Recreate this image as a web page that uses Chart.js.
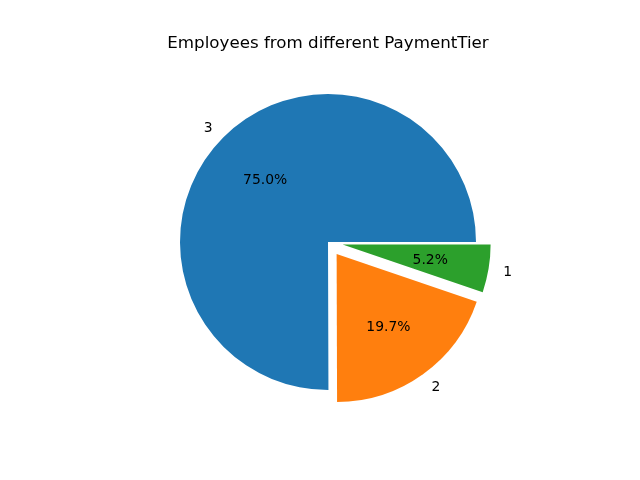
<!DOCTYPE html>
<html>
<head>
<meta charset="utf-8">
<script src="https://cdn.jsdelivr.net/npm/chart.js@4"></script>
<style>
  html, body { margin: 0; padding: 0; background: #fff; }
  #wrap { width: 640px; height: 480px; }
</style>
</head>
<body>
<div id="wrap"><canvas id="myChart" width="640" height="480"></canvas></div>
<script>
// drawing order (clockwise from east, like matplotlib's counter-clockwise from east)
const tiers = ['1', '2', '3'];
const counts = [243, 918, 3492];
const explode = [0.1, 0.1, 0];
const colors = ['#2ca02c', '#ff7f0e', '#1f77b4'];
const total = counts.reduce((a, b) => a + b, 0);

const FONT = 'DejaVu Sans';

// shift exploded wedges and draw labels the way matplotlib does
const pieLabels = {
    id: 'pieLabels',
    beforeDatasetDraw(chart, args) {
        const ctx = chart.ctx;
        const meta = chart.getDatasetMeta(args.index);
        meta.data.forEach(function(arc, i) {
            const p = arc.getProps(['startAngle', 'endAngle', 'outerRadius']);
            const mid = (p.startAngle + p.endAngle) / 2;
            const off = explode[i] * p.outerRadius;
            ctx.save();
            ctx.translate(Math.cos(mid) * off, Math.sin(mid) * off);
            arc.draw(ctx);
            ctx.restore();
        });
        return false;
    },
    afterDatasetsDraw(chart) {
        const ctx = chart.ctx;
        const meta = chart.getDatasetMeta(0);
        ctx.save();
        ctx.fillStyle = '#000';
        ctx.font = '13.9px "' + FONT + '"';
        ctx.textBaseline = 'middle';
        meta.data.forEach(function(arc, i) {
            const p = arc.getProps(['x', 'y', 'startAngle', 'endAngle', 'outerRadius']);
            const mid = (p.startAngle + p.endAngle) / 2;
            const r = p.outerRadius;
            const cx = p.x + Math.cos(mid) * explode[i] * r;
            const cy = p.y + Math.sin(mid) * explode[i] * r + 1;
            // category label at 1.1 r
            const lx = cx + Math.cos(mid) * 1.1 * r;
            const ly = cy + Math.sin(mid) * 1.1 * r;
            ctx.textAlign = Math.cos(mid) < 0 ? 'right' : 'left';
            ctx.fillText(tiers[i], lx, ly);
            // percentage at 0.6 r
            const px = cx + Math.cos(mid) * 0.6 * r;
            const py = cy + Math.sin(mid) * 0.6 * r;
            ctx.textAlign = 'center';
            ctx.fillText((counts[i] / total * 100).toFixed(1) + '%', px, py);
        });
        ctx.restore();
    }
};

const ctx = document.getElementById('myChart').getContext('2d');
window.myChart = new Chart(ctx, {
    type: 'pie',
    data: {
        labels: tiers,
        datasets: [{
            data: counts,
            backgroundColor: colors,
            borderWidth: 0
        }]
    },
    options: {
        responsive: false,
        animation: false,
        rotation: 90,
        radius: 148,
        layout: {
            padding: { left: 16, right: 0, top: 24, bottom: 60 }
        },
        plugins: {
            legend: { display: false },
            tooltip: { enabled: false },
            title: {
                display: true,
                text: 'Employees from different PaymentTier',
                color: '#000',
                font: { family: FONT, size: 16.7, weight: 'normal' },
                padding: { top: 10, bottom: 10 }
            }
        }
    },
    plugins: [pieLabels]
});
</script>
</body>
</html>
